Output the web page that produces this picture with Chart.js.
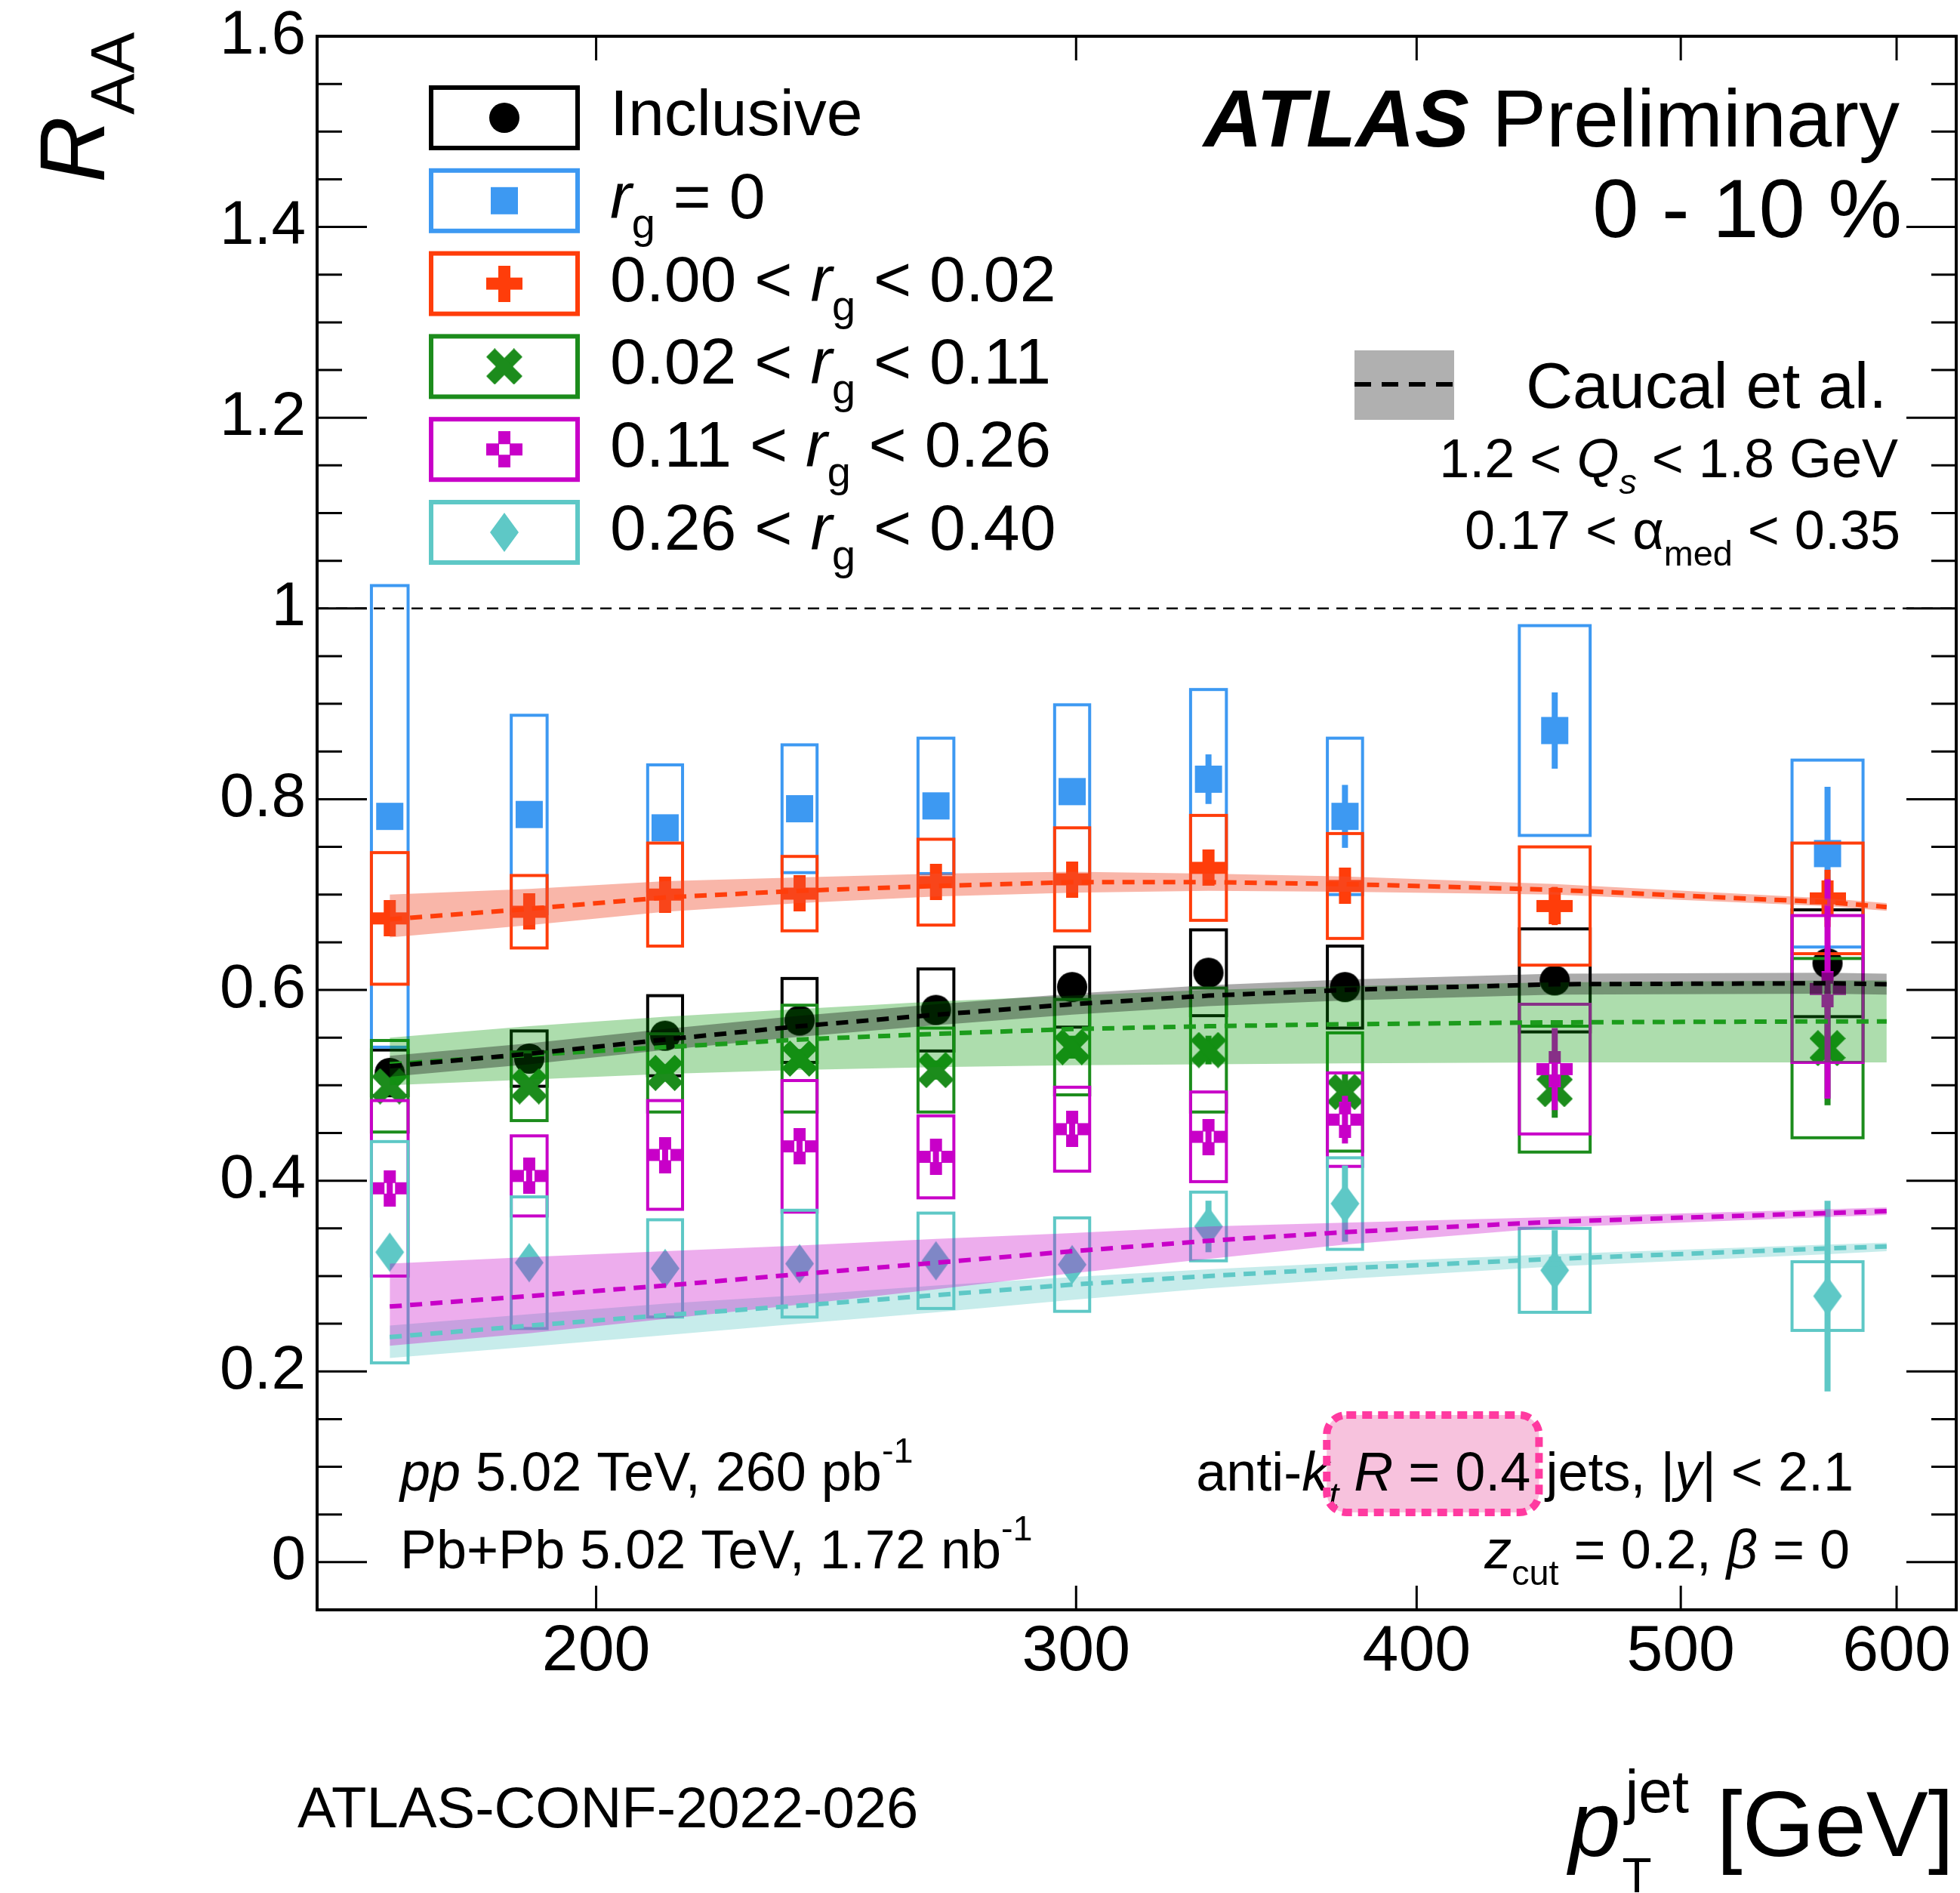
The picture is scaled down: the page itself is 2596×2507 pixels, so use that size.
<!DOCTYPE html>
<html>
<head>
<meta charset="utf-8">
<script src="https://cdn.jsdelivr.net/npm/chart.js@4.4.1/dist/chart.umd.min.js"></script>
<style>
  html, body { margin: 0; padding: 0; background: #fff; overflow: hidden; }
  #wrap { width: 2596px; height: 2507px; }
</style>
</head>
<body>
<div id="wrap"><canvas id="raa" width="2596" height="2507"></canvas></div>
<script>
// jet pT bins [GeV]
const PT_EDGES = [158, 178, 200, 224, 251, 282, 316, 355, 398, 501, 631];
const PT_CENTERS = [168, 189, 212, 237.5, 266.5, 299, 335.5, 376.5, 449.5, 566];

// inclusive
const INCL_RAA  = [0.513, 0.528, 0.552, 0.568, 0.579, 0.603, 0.618, 0.603, 0.610, 0.628];
const INCL_STAT = [0.006, 0.006, 0.006, 0.007, 0.007, 0.008, 0.009, 0.010, 0.012, 0.018];
const INCL_SYS  = [0.024, 0.029, 0.042, 0.044, 0.043, 0.042, 0.045, 0.043, 0.054, 0.056];
// rg = 0
const RG0_RAA  = [0.782, 0.784, 0.770, 0.790, 0.793, 0.808, 0.821, 0.782, 0.872, 0.743];
const RG0_STAT = [0.006, 0.006, 0.007, 0.008, 0.009, 0.012, 0.026, 0.033, 0.040, 0.070];
const RG0_SYS  = [0.242, 0.104, 0.066, 0.067, 0.071, 0.091, 0.094, 0.082, 0.110, 0.098];
// 0.00 < rg < 0.02
const RG1_RAA  = [0.675, 0.682, 0.700, 0.701, 0.713, 0.716, 0.728, 0.709, 0.688, 0.696];
const RG1_STAT = [0.008, 0.008, 0.008, 0.009, 0.010, 0.012, 0.015, 0.016, 0.020, 0.030];
const RG1_SYS  = [0.069, 0.038, 0.054, 0.039, 0.045, 0.054, 0.055, 0.055, 0.062, 0.058];
// 0.02 < rg < 0.11
const RG2_RAA  = [0.499, 0.499, 0.513, 0.528, 0.516, 0.540, 0.537, 0.493, 0.496, 0.539];
const RG2_STAT = [0.008, 0.008, 0.009, 0.010, 0.010, 0.012, 0.015, 0.020, 0.030, 0.060];
const RG2_SYS  = [0.048, 0.036, 0.041, 0.056, 0.044, 0.050, 0.065, 0.062, 0.066, 0.094];
// 0.11 < rg < 0.26
const RG3_RAA  = [0.392, 0.405, 0.427, 0.436, 0.425, 0.454, 0.446, 0.464, 0.517, 0.601];
const RG3_STAT = [0.008, 0.009, 0.010, 0.011, 0.012, 0.014, 0.018, 0.025, 0.043, 0.115];
const RG3_SYS  = [0.092, 0.042, 0.057, 0.069, 0.043, 0.044, 0.047, 0.049, 0.068, 0.077];
// 0.26 < rg < 0.40
const RG4_RAA  = [0.325, 0.314, 0.308, 0.313, 0.316, 0.312, 0.352, 0.376, 0.306, 0.279];
const RG4_STAT = [0.008, 0.008, 0.009, 0.010, 0.012, 0.015, 0.027, 0.040, 0.042, 0.100];
const RG4_SYS  = [0.116, 0.069, 0.051, 0.056, 0.050, 0.049, 0.036, 0.048, 0.044, 0.036];

// Caucal et al. calculation (central, lower, upper)
const TH_PT = [168, 189, 212, 237.5, 266.5, 299, 335.5, 376.5, 449.5, 566, 595];
const TH_INCL_MID = [0.520, 0.533, 0.548, 0.562, 0.574, 0.585, 0.594, 0.600, 0.606, 0.607, 0.606];
const TH_INCL_LO  = [0.509, 0.522, 0.537, 0.551, 0.563, 0.574, 0.583, 0.589, 0.595, 0.596, 0.595];
const TH_INCL_HI  = [0.531, 0.544, 0.559, 0.573, 0.585, 0.596, 0.605, 0.611, 0.617, 0.618, 0.617];
const TH_RG1_MID = [0.674, 0.685, 0.697, 0.704, 0.709, 0.713, 0.713, 0.711, 0.705, 0.692, 0.687];
const TH_RG1_LO  = [0.655, 0.668, 0.682, 0.691, 0.698, 0.702, 0.704, 0.703, 0.700, 0.688, 0.683];
const TH_RG1_HI  = [0.700, 0.706, 0.714, 0.718, 0.722, 0.724, 0.722, 0.719, 0.711, 0.696, 0.691];
const TH_RG2_MID = [0.522, 0.532, 0.540, 0.548, 0.554, 0.559, 0.562, 0.564, 0.566, 0.567, 0.567];
const TH_RG2_LO  = [0.500, 0.506, 0.512, 0.516, 0.519, 0.521, 0.522, 0.523, 0.524, 0.524, 0.524];
const TH_RG2_HI  = [0.550, 0.562, 0.572, 0.580, 0.588, 0.594, 0.600, 0.604, 0.608, 0.610, 0.610];
const TH_RG3_MID = [0.268, 0.279, 0.290, 0.302, 0.314, 0.326, 0.337, 0.346, 0.357, 0.366, 0.368];
const TH_RG3_LO  = [0.227, 0.240, 0.255, 0.270, 0.286, 0.303, 0.318, 0.333, 0.351, 0.362, 0.364];
const TH_RG3_HI  = [0.313, 0.320, 0.326, 0.332, 0.339, 0.345, 0.352, 0.356, 0.362, 0.370, 0.372];
const TH_RG4_MID = [0.236, 0.248, 0.259, 0.269, 0.280, 0.291, 0.300, 0.308, 0.318, 0.329, 0.331];
const TH_RG4_LO  = [0.214, 0.226, 0.238, 0.250, 0.262, 0.275, 0.287, 0.297, 0.310, 0.323, 0.326];
const TH_RG4_HI  = [0.248, 0.260, 0.271, 0.280, 0.290, 0.299, 0.307, 0.314, 0.323, 0.333, 0.335];

const REF_LEVEL = 1;
const X_TICKS = [200, 300, 400, 500, 600];
const Y_TICKS = [0, 0.2, 0.4, 0.6, 0.8, 1.0, 1.2, 1.4, 1.6];

const FONT = '"Liberation Sans", Arial, Helvetica, sans-serif';
const BOX_HALF_FRAC = 0.13;

const C_INCL = '#000000';
const C_RG0 = '#3d99f2';
const C_RG1 = '#ff3d0a';
const C_RG2 = '#1c8c1c';
const C_RG3 = '#c800c8';
const C_RG4 = '#5ec8c6';

function markerCanvas(shape, color) {
    const c = document.createElement('canvas');
    let w = 48, h = 48;
    if (shape === 'diamond') { w = 40; h = 54; }
    c.width = w; c.height = h;
    const g = c.getContext('2d');
    const cx = w / 2, cy = h / 2;
    g.fillStyle = color;
    if (shape === 'circle') {
        g.beginPath(); g.arc(cx, cy, 20, 0, Math.PI * 2); g.fill();
    } else if (shape === 'square') {
        g.fillRect(cx - 18, cy - 18, 36, 36);
    } else if (shape === 'plus' || shape === 'openplus') {
        g.fillRect(cx - 8, cy - 24, 16, 48);
        g.fillRect(cx - 24, cy - 8, 48, 16);
        if (shape === 'openplus') g.clearRect(cx - 7, cy - 7, 14, 14);
    } else if (shape === 'cross') {
        g.translate(cx, cy); g.rotate(Math.PI / 4);
        g.fillRect(-8, -26, 16, 52); g.fillRect(-26, -8, 52, 16);
    } else if (shape === 'diamond') {
        g.beginPath(); g.moveTo(cx, 1); g.lineTo(w - 1, cy); g.lineTo(cx, h - 1); g.lineTo(1, cy); g.closePath(); g.fill();
    }
    return c;
}

const SERIES = [
    { key: 'incl', raa: INCL_RAA, stat: INCL_STAT, sys: INCL_SYS, color: C_INCL, marker: markerCanvas('circle', C_INCL),
      label: [['Inclusive']] },
    { key: 'rg0', raa: RG0_RAA, stat: RG0_STAT, sys: RG0_SYS, color: C_RG0, marker: markerCanvas('square', C_RG0),
      label: [['r', 'i'], ['g', '_'], [' = 0']] },
    { key: 'rg1', raa: RG1_RAA, stat: RG1_STAT, sys: RG1_SYS, color: C_RG1, marker: markerCanvas('plus', C_RG1),
      label: [['0.00 < '], ['r', 'i'], ['g', '_'], [' < 0.02']] },
    { key: 'rg2', raa: RG2_RAA, stat: RG2_STAT, sys: RG2_SYS, color: C_RG2, marker: markerCanvas('cross', C_RG2),
      label: [['0.02 < '], ['r', 'i'], ['g', '_'], [' < 0.11']] },
    { key: 'rg3', raa: RG3_RAA, stat: RG3_STAT, sys: RG3_SYS, color: C_RG3, marker: markerCanvas('openplus', C_RG3),
      label: [['0.11 < '], ['r', 'i'], ['g', '_'], [' < 0.26']] },
    { key: 'rg4', raa: RG4_RAA, stat: RG4_STAT, sys: RG4_SYS, color: C_RG4, marker: markerCanvas('diamond', C_RG4),
      label: [['0.26 < '], ['r', 'i'], ['g', '_'], [' < 0.40']] }
];

const toXY = (xs, ys) => xs.map((x, i) => ({ x: x, y: ys[i] }));

const datasets = [];
datasets.push({
    type: 'line', data: [{ x: PT_EDGES[0], y: REF_LEVEL }, { x: PT_EDGES[PT_EDGES.length - 1], y: REF_LEVEL }],
    borderColor: '#000', borderWidth: 2.5, borderDash: [15, 10], pointRadius: 0, fill: false, order: 300
});
SERIES.forEach((s, k) => {
    datasets.push({
        type: 'scatter', seriesIdx: k, data: toXY(PT_CENTERS, s.raa),
        pointStyle: s.marker, pointRadius: 20, pointHoverRadius: 20, order: 210 - k
    });
});
// theory bands, drawn over the data like in the original
const BANDS = [
    { lo: TH_RG2_LO, hi: TH_RG2_HI, mid: TH_RG2_MID, fill: 'rgba(0,150,0,0.32)', line: '#1c9c1c' },
    { lo: TH_INCL_LO, hi: TH_INCL_HI, mid: TH_INCL_MID, fill: 'rgba(0,0,0,0.33)', line: '#000000' },
    { lo: TH_RG1_LO, hi: TH_RG1_HI, mid: TH_RG1_MID, fill: 'rgba(240,80,50,0.42)', line: C_RG1 },
    { lo: TH_RG4_LO, hi: TH_RG4_HI, mid: TH_RG4_MID, fill: 'rgba(94,200,198,0.35)', line: C_RG4 },
    { lo: TH_RG3_LO, hi: TH_RG3_HI, mid: TH_RG3_MID, fill: 'rgba(200,0,200,0.32)', line: C_RG3 }
];
BANDS.forEach((b, k) => {
    datasets.push({ type: 'line', data: toXY(TH_PT, b.lo), borderColor: 'transparent', borderWidth: 0,
        pointRadius: 0, fill: false, tension: 0, order: 100 - k });
    datasets.push({ type: 'line', data: toXY(TH_PT, b.hi), borderColor: 'transparent', borderWidth: 0,
        pointRadius: 0, fill: '-1', backgroundColor: b.fill, tension: 0, order: 100 - k });
});
BANDS.forEach((b, k) => {
    datasets.push({ type: 'line', data: toXY(TH_PT, b.mid), borderColor: b.line, borderWidth: 6,
        borderDash: [16, 11], pointRadius: 0, fill: false, tension: 0, order: 20 - k });
});

// text with italic / bold / sub / superscript parts
function layoutRich(ctx, segs, size) {
    let x = 0;
    const parts = segs.map(([t, f = '']) => {
        const small = f.includes('_') || f.includes('^');
        const s = small ? size * 0.65 : size;
        const font = (f.includes('i') ? 'italic ' : '') + (f.includes('b') ? 'bold ' : '') + s + 'px ' + FONT;
        ctx.font = font;
        const w = ctx.measureText(t).width;
        const dy = f.includes('_') ? size * 0.3 : (f.includes('^') ? -size * 0.52 : 0);
        const p = { t, font, x, w, dy, hl: f.includes('h') };
        x += w;
        return p;
    });
    return { parts, width: x };
}
function drawRich(ctx, segs, x, y, size, align) {
    const L = layoutRich(ctx, segs, size);
    const x0 = align === 'right' ? x - L.width : x;
    ctx.textAlign = 'left';
    ctx.textBaseline = 'alphabetic';
    ctx.fillStyle = '#000';
    L.parts.forEach(p => { ctx.font = p.font; ctx.fillText(p.t, x0 + p.x, y + p.dy); });
    return L.parts.map(p => ({ x: x0 + p.x, w: p.w, hl: p.hl }));
}

function drawSeriesErrors(chart, s) {
    const { ctx, chartArea: a, scales: { x, y } } = chart;
    ctx.save();
    ctx.beginPath(); ctx.rect(a.left, a.top, a.right - a.left, a.bottom - a.top); ctx.clip();
    ctx.strokeStyle = s.color;
    ctx.lineWidth = 4;
    s.raa.forEach((v, i) => {
        const half = BOX_HALF_FRAC * Math.log(PT_EDGES[i + 1] / PT_EDGES[i]);
        const c = PT_CENTERS[i];
        const xl = x.getPixelForValue(c * Math.exp(-half));
        const xr = x.getPixelForValue(c * Math.exp(half));
        const yt = y.getPixelForValue(v + s.sys[i]);
        const yb = y.getPixelForValue(v - s.sys[i]);
        ctx.strokeRect(xl, yt, xr - xl, yb - yt);
    });
    ctx.lineWidth = 8;
    s.raa.forEach((v, i) => {
        const xc = x.getPixelForValue(PT_CENTERS[i]);
        ctx.beginPath();
        ctx.moveTo(xc, y.getPixelForValue(v + s.stat[i]));
        ctx.lineTo(xc, y.getPixelForValue(v - s.stat[i]));
        ctx.stroke();
    });
    ctx.restore();
}

function roundRect(ctx, x, y, w, h, r) {
    ctx.beginPath();
    ctx.moveTo(x + r, y); ctx.lineTo(x + w - r, y); ctx.arcTo(x + w, y, x + w, y + r, r);
    ctx.lineTo(x + w, y + h - r); ctx.arcTo(x + w, y + h, x + w - r, y + h, r);
    ctx.lineTo(x + r, y + h); ctx.arcTo(x, y + h, x, y + h - r, r);
    ctx.lineTo(x, y + r); ctx.arcTo(x, y, x + r, y, r);
    ctx.closePath();
}

const atlasPlugin = {
    id: 'atlasDecor',
    beforeDraw(chart) {
        const ctx = chart.ctx;
        ctx.save(); ctx.fillStyle = '#fff'; ctx.fillRect(0, 0, chart.width, chart.height); ctx.restore();
    },
    beforeDatasetDraw(chart, args) {
        const ds = chart.data.datasets[args.index];
        if (ds.seriesIdx !== undefined) drawSeriesErrors(chart, SERIES[ds.seriesIdx]);
    },
    afterDatasetsDraw(chart) {
        const { ctx, chartArea: a, scales: { x, y } } = chart;
        ctx.save();
        // frame + inward ticks
        ctx.strokeStyle = '#000';
        ctx.lineWidth = 4;
        ctx.strokeRect(a.left, a.top, a.right - a.left, a.bottom - a.top);
        ctx.lineWidth = 3;
        ctx.beginPath();
        for (let k = 0; k <= 32; k++) {
            const py = y.getPixelForValue(k * 0.05);
            const len = k % 4 === 0 ? 66 : 33;
            ctx.moveTo(a.left, py); ctx.lineTo(a.left + len, py);
            ctx.moveTo(a.right, py); ctx.lineTo(a.right - len, py);
        }
        X_TICKS.forEach(v => {
            const px = x.getPixelForValue(v);
            ctx.moveTo(px, a.bottom); ctx.lineTo(px, a.bottom - 32);
            ctx.moveTo(px, a.top); ctx.lineTo(px, a.top + 32);
        });
        ctx.stroke();

        // legend
        SERIES.forEach((s, k) => {
            const cy = 156 + k * 109.8;
            ctx.strokeStyle = s.color; ctx.lineWidth = 6;
            ctx.strokeRect(571, cy - 40, 194, 80);
            ctx.drawImage(s.marker, 668 - s.marker.width / 2, cy - s.marker.height / 2);
            drawRich(ctx, s.label, 808, cy + 23, 86, 'left');
        });

        // labels top right
        drawRich(ctx, [['ATLAS', 'bi'], [' Preliminary']], 2516, 194, 108, 'right');
        drawRich(ctx, [['0 - 10 %']], 2519, 314, 110, 'right');
        ctx.fillStyle = '#b0b0b0';
        ctx.fillRect(1794, 464, 132, 92);
        ctx.strokeStyle = '#000'; ctx.lineWidth = 6; ctx.setLineDash([22, 14]);
        ctx.beginPath(); ctx.moveTo(1794, 509); ctx.lineTo(1926, 509); ctx.stroke();
        ctx.setLineDash([]);
        drawRich(ctx, [['Caucal et al.']], 2021, 540, 86, 'left');
        drawRich(ctx, [['1.2 < '], ['Q', 'i'], ['s', 'i_'], [' < 1.8 GeV']], 2514, 632, 72, 'right');
        drawRich(ctx, [['0.17 < \u03b1'], ['med', '_'], [' < 0.35']], 2517, 727, 72, 'right');

        // labels bottom
        drawRich(ctx, [['pp', 'i'], [' 5.02 TeV, 260 pb'], ['-1', '^']], 530, 1974, 72, 'left');
        drawRich(ctx, [['Pb+Pb 5.02 TeV, 1.72 nb'], ['-1', '^']], 530, 2077, 72, 'left');
        const jetSegs = [['anti-'], ['k', 'i'], ['t', 'i_'], [' '], ['R', 'ih'], [' = 0.4', 'h'],
            [' jets, |'], ['y', 'i'], ['| < 2.1']];
        const L = layoutRich(ctx, jetSegs, 72);
        const jx0 = 2455 - L.width;
        const hl = L.parts.filter(p => p.hl);
        const hx0 = jx0 + hl[0].x - 36, hx1 = jx0 + hl[hl.length - 1].x + hl[hl.length - 1].w + 11;
        ctx.fillStyle = 'rgba(238,120,180,0.45)';
        roundRect(ctx, hx0, 1874, hx1 - hx0, 129, 26); ctx.fill();
        drawRich(ctx, jetSegs, 2455, 1974, 72, 'right');
        ctx.strokeStyle = '#ff3aa0'; ctx.lineWidth = 10; ctx.setLineDash([13, 8]);
        roundRect(ctx, hx0, 1874, hx1 - hx0, 129, 26); ctx.stroke();
        ctx.setLineDash([]);
        drawRich(ctx, [['z', 'i'], ['cut', '_'], [' = 0.2, '], ['\u03b2', 'i'], [' = 0']], 2450, 2077, 72, 'right');

        // axis titles
        ctx.save();
        ctx.translate(138, 242);
        ctx.rotate(-Math.PI / 2);
        ctx.fillStyle = '#000';
        ctx.textAlign = 'left'; ctx.textBaseline = 'alphabetic';
        ctx.font = 'italic 122px ' + FONT;
        ctx.fillText('R', 0, 0);
        const rw = ctx.measureText('R').width;
        ctx.font = '82px ' + FONT;
        ctx.fillText('AA', rw + 2, 39);
        ctx.restore();

        ctx.fillStyle = '#000';
        ctx.textAlign = 'left'; ctx.textBaseline = 'alphabetic';
        ctx.font = 'italic 123px ' + FONT;
        ctx.fillText('p', 2078, 2458);
        const pw = ctx.measureText('p').width;
        ctx.font = '64px ' + FONT;
        ctx.fillText('T', 2078 + pw + 2, 2506);
        ctx.font = '80px ' + FONT;
        ctx.fillText('jet', 2078 + pw + 6, 2400);
        ctx.textAlign = 'right';
        ctx.font = '123px ' + FONT;
        ctx.fillText('[GeV]', 2588, 2458);

        ctx.textAlign = 'left';
        ctx.font = '76px ' + FONT;
        ctx.fillText('ATLAS-CONF-2022-026', 394, 2420);
        ctx.restore();
    }
};

const chart = new Chart(document.getElementById('raa').getContext('2d'), {
    type: 'scatter',
    data: { datasets: datasets },
    options: {
        responsive: false,
        devicePixelRatio: 1,
        animation: false,
        events: [],
        layout: { autoPadding: false, padding: { left: 0, right: 5, top: 48, bottom: 0 } },
        plugins: {
            legend: { display: false },
            tooltip: { enabled: false },
            filler: { propagate: false }
        },
        scales: {
            x: {
                type: 'logarithmic',
                min: PT_EDGES[0],
                max: PT_EDGES[PT_EDGES.length - 1],
                bounds: 'data',
                grid: { display: false, drawTicks: false },
                border: { display: false },
                afterBuildTicks: s => { s.ticks = X_TICKS.map(v => ({ value: v })); },
                afterFit: s => { s.height = 375; s.paddingLeft = 0; s.paddingRight = 0; },
                ticks: {
                    autoSkip: false, maxRotation: 0, padding: 5, color: '#000',
                    font: { family: FONT, size: 86 },
                    callback: v => String(v)
                }
            },
            y: {
                min: -0.05,
                max: 1.6,
                grid: { display: false, drawTicks: false },
                border: { display: false },
                afterBuildTicks: s => { s.ticks = Y_TICKS.map(v => ({ value: v })); },
                afterFit: s => { s.width = 420; s.paddingTop = 0; s.paddingBottom = 0; },
                ticks: {
                    autoSkip: false, padding: 15, color: '#000',
                    font: { family: FONT, size: 82, lineHeight: 1.0 },
                    callback: v => String(+v.toFixed(2))
                }
            }
        }
    },
    plugins: [atlasPlugin]
});
</script>
</body>
</html>
